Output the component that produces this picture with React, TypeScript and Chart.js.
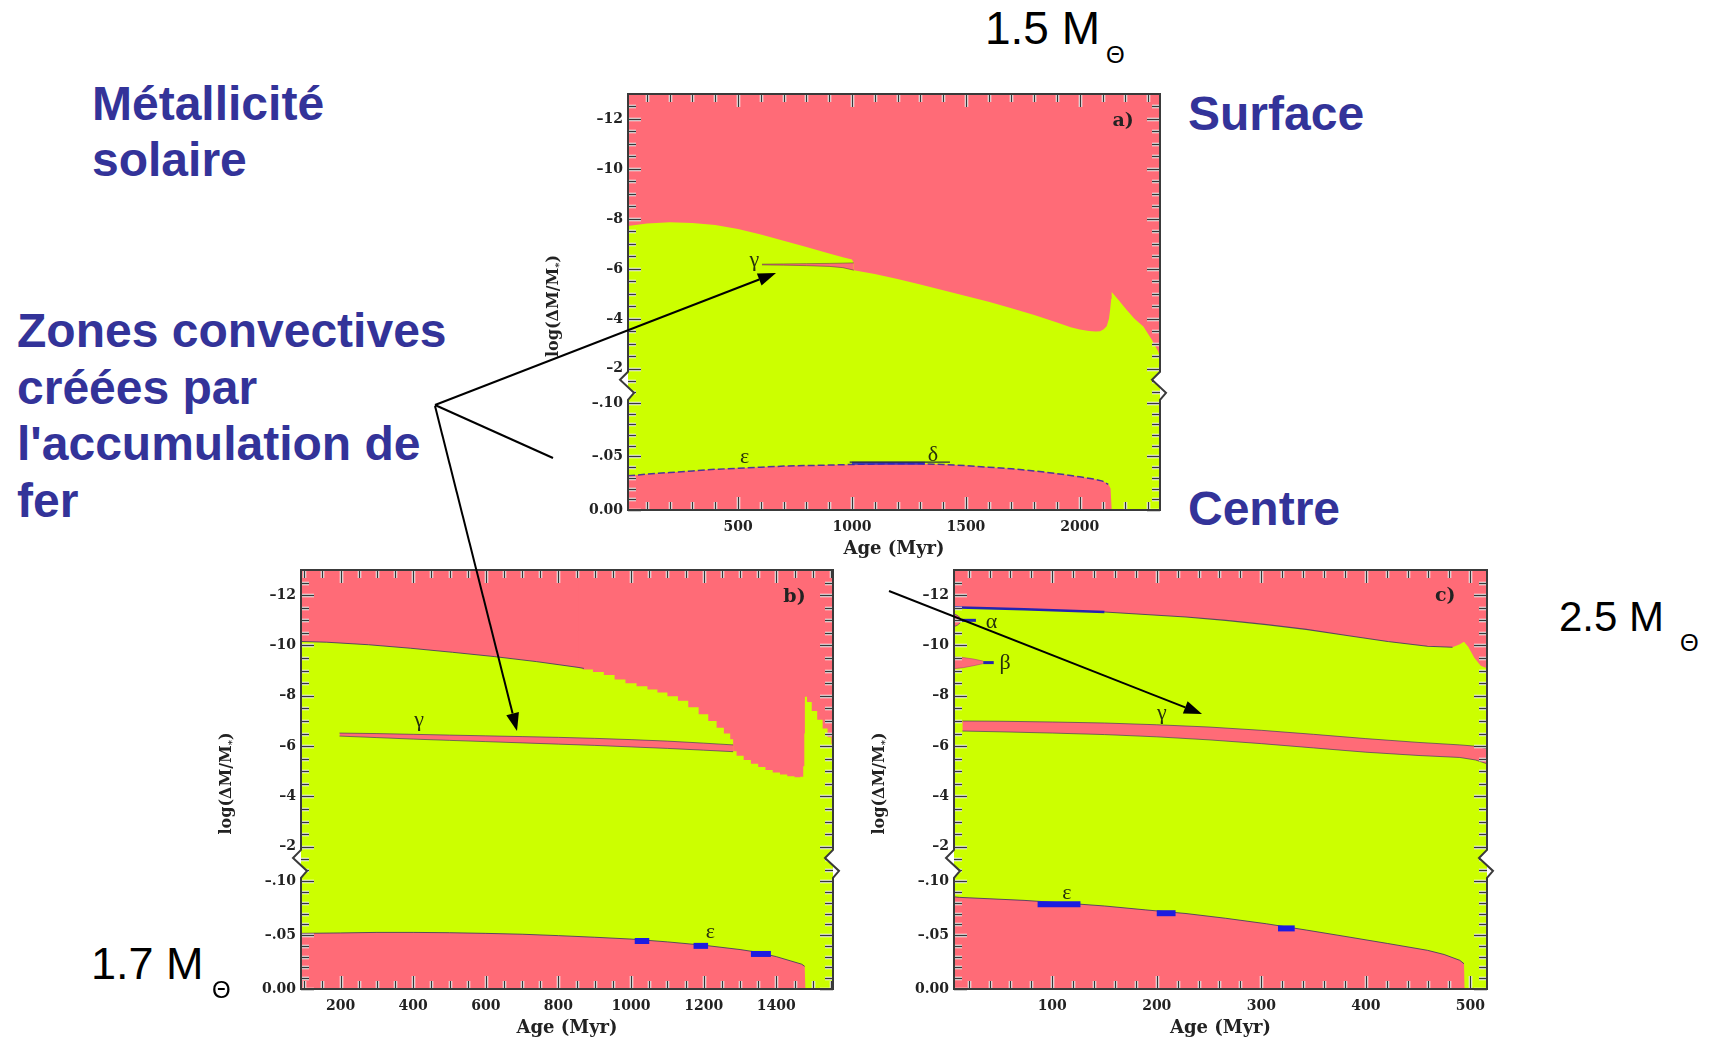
import React, { useEffect, useRef } from 'react';
import { Chart, registerables } from 'chart.js';

Chart.register(...registerables);

/* ---------- colours ---------- */
const RADIATIVE = '#ff6b77';
const CONVECTIVE = '#ccff00';
const EDGE = 'rgba(40,40,100,0.75)';
const IRON_BLUE = '#1c1ce0';
const SLIDE_BLUE = '#333399';
const INK = '#222';

/* ---------- shared axis settings (broken log(ΔM/M*) axis) ---------- */
const yUpperTicks = [-12, -10, -8, -6, -4, -2];
const yLowerTicks = [-0.1, -0.05, 0];
const yUpperMinor = [-12.5, -11.5, -11, -10.5, -9.5, -9, -8.5, -7.5, -7, -6.5, -5.5, -5, -4.5, -3.5, -3, -2.5, -1.5];
const yLowerMinor = [-0.11, -0.09, -0.08, -0.07, -0.06, -0.04, -0.03, -0.02, -0.01];
const yUpperRange = [-13, -1.32];
const yLowerRange = [-0.116, 0];

/* ---------- a) 1.5 Msun ---------- */
const aAgeRange = [17, 2352];
const aAgeTicks = [500, 1000, 1500, 2000];
const aAgeMinor = [100, 200, 300, 400, 600, 700, 800, 900, 1100, 1200, 1300, 1400, 1600, 1700, 1800, 1900, 2100, 2200, 2300];
const aSurfAge = [17, 100, 200, 300, 400, 500, 600, 700, 800, 900, 960, 1000, 1008, 1008, 1100, 1200, 1300, 1400, 1500, 1600, 1700, 1800, 1900, 1960, 2000, 2040, 2070, 2089, 2105, 2118, 2128, 2133, 2138, 2140, 2170, 2206, 2240, 2279, 2316, 2344, 2352];
const aSurfLog = [-7.72, -7.82, -7.87, -7.84, -7.76, -7.6, -7.38, -7.13, -6.88, -6.62, -6.47, -6.38, -6.24, -5.95, -5.8, -5.6, -5.38, -5.15, -4.92, -4.68, -4.42, -4.15, -3.85, -3.66, -3.57, -3.51, -3.49, -3.5, -3.58, -3.7, -4.0, -4.35, -4.8, -5.08, -4.75, -4.35, -4.0, -3.69, -3.16, -2.69, -2.5];
const aGammaAge = [605, 700, 800, 900, 960, 1008];
const aGammaTop = [-6.19, -6.2, -6.21, -6.22, -6.23, -6.24];
const aGammaBot = [-6.16, -6.15, -6.13, -6.1, -6.05, -5.95];
const aCoreAge = [17, 100, 200, 300, 400, 500, 600, 700, 800, 900, 1000, 1100, 1200, 1300, 1400, 1500, 1600, 1700, 1800, 1900, 2000, 2060, 2100, 2125, 2135, 2140, 2352];
const aCoreLog = [-0.032, -0.0335, -0.035, -0.0365, -0.038, -0.039, -0.04, -0.041, -0.0415, -0.042, -0.0425, -0.043, -0.0432, -0.0432, -0.0425, -0.0415, -0.04, -0.0385, -0.0365, -0.034, -0.031, -0.029, -0.027, -0.024, -0.02, 0, 0];
const aIronFrom = [1000];
const aIronTo = [1320];
const aIronLog = [-0.0437];
const aDeltaAge = [990, 1430];
const aDeltaLog = [-0.0448, -0.0448];

/* ---------- b) 1.7 Msun ---------- */
const bAgeRange = [91, 1556];
const bAgeTicks = [200, 400, 600, 800, 1000, 1200, 1400];
const bAgeMinor = [100, 150, 250, 300, 350, 450, 500, 550, 650, 700, 750, 850, 900, 950, 1050, 1100, 1150, 1250, 1300, 1350, 1450, 1500, 1550];
const bSurfAge = [91, 162, 277, 393, 508, 623, 739, 854, 870];
const bSurfLog = [-10.16, -10.13, -10.03, -9.89, -9.73, -9.56, -9.36, -9.13, -9.09];
const bStairAge = [854, 880, 910, 940, 969, 1000, 1030, 1060, 1085, 1115, 1143, 1172, 1200, 1225, 1246, 1265, 1281, 1281, 1300, 1320, 1340, 1360, 1380, 1400, 1420, 1440, 1460, 1472, 1476, 1478, 1479, 1490, 1505, 1520, 1535, 1547, 1556];
const bStairLog = [-9.13, -9.05, -8.95, -8.83, -8.65, -8.5, -8.38, -8.25, -8.13, -7.98, -7.8, -7.55, -7.27, -7.0, -6.73, -6.5, -6.27, -5.8, -5.62, -5.45, -5.3, -5.17, -5.05, -4.95, -4.87, -4.8, -4.76, -4.78, -5.2, -6.5, -7.96, -7.75, -7.4, -7.05, -6.7, -6.35, -6.1];
const bGammaAge = [197, 300, 400, 500, 600, 700, 800, 900, 1000, 1100, 1200, 1281];
const bGammaTop = [-6.52, -6.5, -6.47, -6.44, -6.41, -6.38, -6.35, -6.31, -6.26, -6.2, -6.12, -6.05];
const bGammaBot = [-6.4, -6.34, -6.28, -6.23, -6.18, -6.13, -6.08, -6.03, -5.97, -5.91, -5.84, -5.78];
const bCoreAge = [91, 200, 300, 400, 500, 600, 700, 800, 900, 1000, 1100, 1200, 1300, 1350, 1400, 1440, 1470, 1478, 1480, 1556];
const bCoreLog = [-0.0516, -0.052, -0.0525, -0.0525, -0.0522, -0.0516, -0.0508, -0.0495, -0.048, -0.0463, -0.0437, -0.0406, -0.0366, -0.034, -0.03, -0.026, -0.023, -0.021, 0, 0];
const bIronFrom = [1010, 1172, 1330];
const bIronTo = [1050, 1212, 1385];
const bIronLog = [-0.0445, -0.04, -0.0325];

/* ---------- c) 2.5 Msun ---------- */
const cAgeRange = [6, 516];
const cAgeTicks = [100, 200, 300, 400, 500];
const cAgeMinor = [20, 40, 60, 80, 120, 140, 160, 180, 220, 240, 260, 280, 320, 340, 360, 380, 420, 440, 460, 480];
const cSurfAge = [6, 11, 73, 150, 228, 266, 305, 343, 382, 421, 459, 483, 490, 494, 498, 504, 510, 516];
const cSurfLog = [-11.52, -11.51, -11.44, -11.33, -11.13, -11.0, -10.83, -10.64, -10.4, -10.16, -9.97, -9.93, -10.05, -10.15, -9.95, -9.5, -9.2, -9.1];
const cAlphaAge = [6, 9, 12];
const cAlphaTop = [-11.25, -11.2, -11.1];
const cAlphaBot = [-10.75, -10.8, -10.9];
const cBetaAge = [6, 15, 25, 34];
const cBetaTop = [-9.55, -9.52, -9.46, -9.38];
const cBetaBot = [-9.08, -9.12, -9.2, -9.28];
const cBarFrom = [13, 34];
const cBarTo = [27, 44];
const cBarLog = [-11.0, -9.32];
const cGammaAge = [14, 50, 100, 150, 200, 250, 300, 350, 400, 450, 490, 505, 516];
const cGammaTop = [-7.0, -6.99, -6.96, -6.92, -6.85, -6.76, -6.63, -6.47, -6.3, -6.15, -6.05, -6.0, -5.9];
const cGammaBot = [-6.6, -6.57, -6.52, -6.46, -6.37, -6.25, -6.1, -5.93, -5.76, -5.63, -5.55, -5.45, -5.3];
const cCoreAge = [6, 11, 73, 112, 150, 189, 228, 266, 305, 343, 382, 421, 459, 475, 490, 494, 494.5, 516];
const cCoreLog = [-0.0855, -0.085, -0.0822, -0.0797, -0.077, -0.0734, -0.07, -0.0656, -0.0605, -0.0547, -0.0485, -0.0422, -0.0359, -0.032, -0.0266, -0.0234, 0, 0];
const cIronFrom = [86, 200, 316];
const cIronTo = [127, 218, 332];
const cIronLog = [-0.0787, -0.0703, -0.0562];

/* ---------- dataset helpers ---------- */
type Pt = { x: number; y: number };
type Axis = 'yTop' | 'yBot';
const pts = (xs: number[], ys: number[]): Pt[] => xs.map((x, i) => ({ x, y: ys[i] }));
const upTo = (xs: number[], ys: number[], xMax: number) => pts(xs, ys).filter((p) => p.x <= xMax);

const area = (data: Pt[], axis: Axis, fill: any, extra: any = {}) => ({
  data, yAxisID: axis, fill, backgroundColor: RADIATIVE, borderWidth: 0, pointRadius: 0, tension: 0, ...extra,
});
const edge = (data: Pt[], axis: Axis, color: string, width: number, extra: any = {}) => ({
  data, yAxisID: axis, fill: false, borderColor: color, borderWidth: width, pointRadius: 0, tension: 0,
  borderCapStyle: 'butt', ...extra,
});
const band = (xs: number[], top: number[], bot: number[], axis: Axis, color = EDGE, width = 0.8) => [
  { data: pts(xs, top), yAxisID: axis, fill: '+1', backgroundColor: RADIATIVE, borderColor: color, borderWidth: width, pointRadius: 0, tension: 0 },
  { data: pts(xs, bot), yAxisID: axis, fill: false, borderColor: color, borderWidth: width, pointRadius: 0, tension: 0 },
];
const bars = (from: number[], to: number[], ys: number[], axis: Axis, color = IRON_BLUE, width = 6) =>
  from.map((x0, i) => edge([{ x: x0, y: ys[i] }, { x: to[i], y: ys[i] }], axis, color, width));

type Note = { t: string; x: number; y: number; ax: Axis; bold?: boolean };

interface PanelSpec {
  box: number[]; // plot area: left, top, width, height on the page
  ageRange: number[];
  ageTicks: number[];
  ageMinor: number[];
  layers: any[]; // back to front
  notes: Note[];
}

const PANELS: PanelSpec[] = [
  {
    box: [628, 94, 532, 416],
    ageRange: aAgeRange,
    ageTicks: aAgeTicks,
    ageMinor: aAgeMinor,
    layers: [
      area(pts(aSurfAge, aSurfLog), 'yTop', 'end'),
      ...band(aGammaAge, aGammaTop, aGammaBot, 'yTop', 'rgba(60,40,70,0.6)', 0.8),
      area(pts(aCoreAge, aCoreLog), 'yBot', 'start'),
      edge(upTo(aCoreAge, aCoreLog, 2130), 'yBot', 'rgba(60,40,160,0.9)', 1.5, { borderDash: [7, 3] }),
      ...bars(aIronFrom, aIronTo, aIronLog, 'yBot', 'rgba(40,34,200,0.85)', 3),
      edge(pts(aDeltaAge, aDeltaLog), 'yBot', '#2a2a40', 1.3),
    ],
    notes: [
      { t: 'γ', x: 572, y: -6.35, ax: 'yTop' },
      { t: 'ε', x: 529, y: -0.0495, ax: 'yBot' },
      { t: 'δ', x: 1355, y: -0.0515, ax: 'yBot' },
      { t: 'a)', x: 2190, y: -11.9, ax: 'yTop', bold: true },
    ],
  },
  {
    box: [301, 570, 532, 419],
    ageRange: bAgeRange,
    ageTicks: bAgeTicks,
    ageMinor: bAgeMinor,
    layers: [
      area(pts(bSurfAge, bSurfLog), 'yTop', 'end'),
      area(pts(bStairAge, bStairLog), 'yTop', 'end', { stepped: 'middle' }),
      edge(pts(bSurfAge, bSurfLog), 'yTop', EDGE, 1),
      ...band(bGammaAge, bGammaTop, bGammaBot, 'yTop'),
      area(pts(bCoreAge, bCoreLog), 'yBot', 'start'),
      edge(upTo(bCoreAge, bCoreLog, 1478), 'yBot', EDGE, 1),
      ...bars(bIronFrom, bIronTo, bIronLog, 'yBot'),
    ],
    notes: [
      { t: 'γ', x: 416, y: -7.05, ax: 'yTop' },
      { t: 'ε', x: 1218, y: -0.0525, ax: 'yBot' },
      { t: 'b)', x: 1450, y: -11.93, ax: 'yTop', bold: true },
    ],
  },
  {
    box: [954, 570, 533, 419],
    ageRange: cAgeRange,
    ageTicks: cAgeTicks,
    ageMinor: cAgeMinor,
    layers: [
      area(pts(cSurfAge, cSurfLog), 'yTop', 'end'),
      edge(upTo(cSurfAge, cSurfLog, 160), 'yTop', '#2424b0', 2.6),
      edge(upTo(cSurfAge, cSurfLog, 485).filter((p) => p.x >= 150), 'yTop', EDGE, 1.1),
      ...band(cAlphaAge, cAlphaTop, cAlphaBot, 'yTop', 'rgba(90,40,140,0.7)', 1),
      ...band(cBetaAge, cBetaTop, cBetaBot, 'yTop', 'rgba(150,60,120,0.6)', 0.8),
      ...bars(cBarFrom, cBarTo, cBarLog, 'yTop', '#2424b0', 3),
      ...band(cGammaAge, cGammaTop, cGammaBot, 'yTop'),
      area(pts(cCoreAge, cCoreLog), 'yBot', 'start'),
      edge(upTo(cCoreAge, cCoreLog, 494), 'yBot', EDGE, 1),
      ...bars(cIronFrom, cIronTo, cIronLog, 'yBot'),
    ],
    notes: [
      { t: 'α', x: 42, y: -10.94, ax: 'yTop' },
      { t: 'β', x: 55, y: -9.3, ax: 'yTop' },
      { t: 'γ', x: 205, y: -7.3, ax: 'yTop' },
      { t: 'ε', x: 114, y: -0.089, ax: 'yBot' },
      { t: 'c)', x: 476, y: -11.95, ax: 'yTop', bold: true },
    ],
  },
];

/* ---------- layout of each canvas ---------- */
const Y_AXIS_W = 90;
const X_AXIS_H = 60;
const PAD_TOP = 20;
const PAD_RIGHT = 12;
const TICK_FONT = { family: '"DejaVu Serif", serif', size: 14, weight: 'bold' as const };
const TITLE_FONT = { family: '"DejaVu Serif", serif', size: 18, weight: 'bold' as const };

/* inward tick marks on all four sides */
function drawFrameTicks(chart: any, ageMinor: number[], ageMajor: number[]) {
  const ctx: CanvasRenderingContext2D = chart.ctx;
  const area = chart.chartArea;
  const L: number = area.left;
  const R: number = area.right;
  const T: number = area.top;
  const B: number = area.bottom;
  const sx = chart.scales['x'];
  const st = chart.scales['yTop'];
  const sb = chart.scales['yBot'];

  ctx.save();
  ctx.lineCap = 'butt';
  const pass = (color: string, width: number) => {
    ctx.strokeStyle = color;
    ctx.lineWidth = width;
    ctx.beginPath();
    const xTick = (v: number, len: number) => {
      const p = Math.round(sx.getPixelForValue(v)) + 0.5;
      ctx.moveTo(p, T); ctx.lineTo(p, T + len);
      ctx.moveTo(p, B); ctx.lineTo(p, B - len);
    };
    const yTick = (s: any, v: number, len: number) => {
      const p = Math.round(s.getPixelForValue(v)) + 0.5;
      ctx.moveTo(L, p); ctx.lineTo(L + len, p);
      ctx.moveTo(R, p); ctx.lineTo(R - len, p);
    };
    ageMinor.forEach((v) => xTick(v, 8));
    ageMajor.forEach((v) => xTick(v, 13));
    yUpperMinor.forEach((v) => yTick(st, v, 8));
    yUpperTicks.forEach((v) => yTick(st, v, 13));
    yLowerMinor.forEach((v) => yTick(sb, v, 8));
    yLowerTicks.forEach((v) => yTick(sb, v, 13));
    ctx.stroke();
  };
  pass('rgba(255,255,255,0.95)', 3.5);
  pass('rgba(55,55,55,1)', 1.4);
  ctx.restore();
}

/* frame with the zigzag marking the axis break, plus the y title */
function drawFrame(chart: any) {
  const { ctx, chartArea } = chart;
  const L = chartArea.left;
  const R = chartArea.right;
  const T = chartArea.top;
  const B = chartArea.bottom;
  const b = chart.scales.yTop.bottom;
  ctx.save();
  ctx.fillStyle = '#fff';
  ctx.beginPath();
  ctx.moveTo(L, b + 14); ctx.lineTo(L + 6, b + 7); ctx.lineTo(L, b + 1.4); ctx.closePath();
  ctx.moveTo(R, b - 14); ctx.lineTo(R - 8, b - 6); ctx.lineTo(R, b + 1.4); ctx.closePath();
  ctx.fill();

  ctx.strokeStyle = '#3a3a3a';
  ctx.lineWidth = 2;
  ctx.lineJoin = 'miter';
  ctx.beginPath();
  ctx.moveTo(L, T);
  ctx.lineTo(R, T);
  ctx.lineTo(R, b - 14); ctx.lineTo(R - 8, b - 6); ctx.lineTo(R + 6, b + 7); ctx.lineTo(R, b + 14);
  ctx.lineTo(R, B);
  ctx.lineTo(L, B);
  ctx.lineTo(L, b + 14); ctx.lineTo(L + 6, b + 7); ctx.lineTo(L - 8, b - 6); ctx.lineTo(L, b - 14);
  ctx.closePath();
  ctx.stroke();

  ctx.translate(L - 74, (T + B) / 2 + 4);
  ctx.rotate(-Math.PI / 2);
  ctx.fillStyle = INK;
  ctx.textBaseline = 'middle';
  ctx.textAlign = 'left';
  const big = 'bold 16px "DejaVu Serif"';
  const small = 'bold 10px "DejaVu Serif"';
  ctx.font = big;
  const w1 = ctx.measureText('log(ΔM/M').width;
  const w3 = ctx.measureText(')').width;
  ctx.font = small;
  const w2 = ctx.measureText('*').width;
  let x = -(w1 + w2 + w3) / 2;
  ctx.font = big; ctx.fillText('log(ΔM/M', x, 0); x += w1;
  ctx.font = small; ctx.fillText('*', x, 5); x += w2;
  ctx.font = big; ctx.fillText(')', x, 0);
  ctx.restore();
}

/* zone names and panel letter, placed in data coordinates */
function drawNotes(chart: any, items: Note[]) {
  const { ctx } = chart;
  ctx.save();
  ctx.textAlign = 'center';
  ctx.textBaseline = 'middle';
  items.forEach((n) => {
    const px = chart.scales.x.getPixelForValue(n.x);
    const py = chart.scales[n.ax].getPixelForValue(n.y);
    ctx.font = n.bold ? 'bold 19px "DejaVu Serif"' : '22px "Liberation Serif"';
    ctx.fillStyle = n.bold ? INK : '#26300c';
    ctx.fillText(n.t, px, py);
  });
  ctx.restore();
}

function buildConfig(spec: PanelSpec): any {
  const n = spec.layers.length;
  const datasets = spec.layers.map((d, i) => ({ ...d, order: n - i }));
  const yCommon = {
    type: 'linear',
    axis: 'y',
    position: 'left',
    stack: 'logm',
    reverse: true,
    afterFit: (s: any) => { s.width = Y_AXIS_W; },
    grid: { display: false, drawTicks: false },
    border: { display: false },
  };
  return {
    type: 'line',
    data: { datasets },
    options: {
      animation: false,
      responsive: false,
      maintainAspectRatio: false,
      devicePixelRatio: 1,
      events: [],
      layout: { padding: { left: 0, top: PAD_TOP, right: PAD_RIGHT, bottom: 0 } },
      plugins: {
        legend: { display: false },
        tooltip: { enabled: false },
      },
      scales: {
        x: {
          type: 'linear',
          min: spec.ageRange[0],
          max: spec.ageRange[1],
          afterBuildTicks: (s: any) => { s.ticks = spec.ageTicks.map((v) => ({ value: v })); },
          afterFit: (s: any) => { s.height = X_AXIS_H; },
          grid: { display: false, drawTicks: false },
          border: { display: false },
          ticks: { font: TICK_FONT, color: INK, padding: 9, maxRotation: 0, autoSkip: false, callback: (v: number) => String(v) },
          title: { display: true, text: 'Age (Myr)', font: TITLE_FONT, color: INK, padding: { top: 0, bottom: 10 } },
        },
        yTop: {
          ...yCommon,
          stackWeight: 2.35,
          weight: 1,
          min: yUpperRange[0],
          max: yUpperRange[1],
          afterBuildTicks: (s: any) => { s.ticks = yUpperTicks.map((v) => ({ value: v })); },
          ticks: { font: TICK_FONT, color: INK, padding: 5, callback: (v: number) => '–' + Math.abs(v) },
        },
        yBot: {
          ...yCommon,
          stackWeight: 1,
          weight: 0,
          min: yLowerRange[0],
          max: yLowerRange[1],
          afterBuildTicks: (s: any) => { s.ticks = yLowerTicks.map((v) => ({ value: v })); },
          ticks: {
            font: TICK_FONT, color: INK, padding: 5,
            callback: (v: number) => (v === 0 ? '0.00' : '–' + Math.abs(v).toFixed(2).slice(1)),
          },
        },
      },
    },
    plugins: [
      {
        id: 'convectiveBackground',
        beforeDatasetsDraw(chart: any) {
          const { ctx, chartArea: ca } = chart;
          ctx.save();
          ctx.fillStyle = CONVECTIVE;
          ctx.fillRect(ca.left, ca.top, ca.right - ca.left, ca.bottom - ca.top);
          ctx.restore();
        },
      },
      {
        id: 'panelDecor',
        afterDraw(chart: any) {
          drawFrameTicks(chart, spec.ageMinor, spec.ageTicks);
          drawFrame(chart);
          drawNotes(chart, spec.notes);
        },
      },
    ],
  };
}

function PanelChart({ spec }: { spec: PanelSpec }) {
  const ref = useRef<HTMLCanvasElement>(null);
  const [l, t, w, h] = spec.box;
  const cw = w + Y_AXIS_W + PAD_RIGHT;
  const chh = h + PAD_TOP + X_AXIS_H;
  useEffect(() => {
    const chart = new Chart(ref.current as HTMLCanvasElement, buildConfig(spec));
    return () => chart.destroy();
  }, [spec]);
  return (
    <canvas
      ref={ref}
      width={cw}
      height={chh}
      style={{ position: 'absolute', left: l - Y_AXIS_W, top: t - PAD_TOP, width: cw, height: chh }}
    />
  );
}

/* ---------- slide annotations ---------- */
const slideLines = [
  { text: 'Métallicité', left: 92, base: 121 },
  { text: 'solaire', left: 92, base: 177 },
  { text: 'Surface', left: 1188, base: 131 },
  { text: 'Zones convectives', left: 17, base: 348 },
  { text: 'créées par', left: 17, base: 405 },
  { text: "l'accumulation de", left: 17, base: 461 },
  { text: 'fer', left: 17, base: 518 },
  { text: 'Centre', left: 1188, base: 526 },
];
const massLabels = [
  { text: '1.5 M', left: 985, base: 44, size: 46 },
  { text: '2.5 M', left: 1559, base: 632, size: 42 },
  { text: '1.7 M', left: 91, base: 979, size: 45 },
];
const arrows = [
  { x1: 435, y1: 405, x2: 776, y2: 273, head: true },
  { x1: 435, y1: 405, x2: 553, y2: 458, head: false },
  { x1: 435, y1: 406, x2: 517, y2: 731, head: true },
  { x1: 889, y1: 591, x2: 1202, y2: 714, head: true },
];

const SANS = '"Liberation Sans", Arial, sans-serif';
const ASC = 0.8465;
const SLIDE_SIZE = 48;

function Arrow({ x1, y1, x2, y2, head }: { x1: number; y1: number; x2: number; y2: number; head: boolean }) {
  const len = Math.hypot(x2 - x1, y2 - y1);
  const ux = (x2 - x1) / len;
  const uy = (y2 - y1) / len;
  const hl = head ? 18 : 0;
  const hw = 6.5;
  const bx = x2 - ux * hl;
  const by = y2 - uy * hl;
  return (
    <g>
      <line x1={x1} y1={y1} x2={bx} y2={by} stroke="#000" strokeWidth={2} />
      {head && (
        <polygon
          points={`${x2},${y2} ${bx - uy * hw},${by + ux * hw} ${bx + uy * hw},${by - ux * hw}`}
          fill="#000"
        />
      )}
    </g>
  );
}

export default function App() {
  return (
    <div style={{ position: 'fixed', left: 0, top: 0, width: 1717, height: 1039, background: '#fff', overflow: 'hidden' }}>
      {PANELS.map((p, i) => (
        <PanelChart key={i} spec={p} />
      ))}
      {slideLines.map((s) => (
        <div
          key={s.text}
          style={{
            position: 'absolute', left: s.left, top: s.base - ASC * SLIDE_SIZE, fontFamily: SANS, fontWeight: 'bold',
            fontSize: SLIDE_SIZE, lineHeight: SLIDE_SIZE + 'px', color: SLIDE_BLUE, whiteSpace: 'nowrap',
          }}
        >
          {s.text}
        </div>
      ))}
      {massLabels.map((m) => (
        <React.Fragment key={m.text}>
          <div
            style={{
              position: 'absolute', left: m.left, top: m.base - ASC * m.size, fontFamily: SANS, fontSize: m.size,
              lineHeight: m.size + 'px', color: '#000', whiteSpace: 'nowrap',
            }}
          >
            {m.text}
          </div>
          <div
            style={{
              position: 'absolute', left: m.left + 121, top: m.base + 19 - ASC * 24, fontFamily: SANS, fontSize: 24,
              lineHeight: '24px', color: '#000',
            }}
          >
            Θ
          </div>
        </React.Fragment>
      ))}
      <svg width={1717} height={1039} style={{ position: 'absolute', left: 0, top: 0, pointerEvents: 'none' }}>
        {arrows.map((a, i) => (
          <Arrow key={i} {...a} />
        ))}
      </svg>
    </div>
  );
}
